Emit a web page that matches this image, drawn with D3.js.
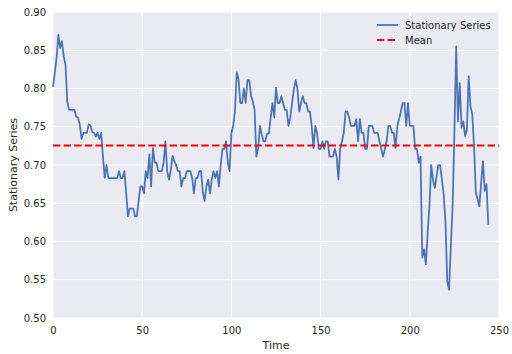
<!DOCTYPE html>
<html>
<head>
<meta charset="utf-8">
<script src="https://cdn.jsdelivr.net/npm/d3@7"></script>
<style>
  body { margin: 0; background: #fff; }
  svg text { font-family: "DejaVu Sans", sans-serif; fill: #262626; }
</style>
</head>
<body>
<svg id="chart"></svg>
<script>
// Series values, one per time step.
const seriesValues = [
  0.802, 0.82, 0.84, 0.87, 0.853, 0.862, 0.842, 0.831, 0.783, 0.772,
  0.772, 0.772, 0.772, 0.763, 0.762, 0.753, 0.734, 0.742, 0.742, 0.742,
  0.753, 0.752, 0.743, 0.742, 0.737, 0.742, 0.734, 0.742, 0.711, 0.683,
  0.70, 0.683, 0.683, 0.683, 0.683, 0.683, 0.683, 0.692, 0.683, 0.683,
  0.692, 0.664, 0.633, 0.643, 0.643, 0.643, 0.633, 0.633, 0.653, 0.672,
  0.672, 0.663, 0.692, 0.683, 0.714, 0.672, 0.722, 0.703, 0.703, 0.692,
  0.692, 0.692, 0.703, 0.731, 0.692, 0.681, 0.693, 0.712, 0.705, 0.70,
  0.692, 0.692, 0.672, 0.683, 0.683, 0.692, 0.692, 0.692, 0.683, 0.663,
  0.683, 0.683, 0.692, 0.692, 0.664, 0.653, 0.672, 0.681, 0.663, 0.681,
  0.692, 0.683, 0.692, 0.672, 0.70, 0.721, 0.721, 0.731, 0.703, 0.692,
  0.742, 0.751, 0.770, 0.821, 0.812, 0.781, 0.781, 0.80, 0.781, 0.811,
  0.811, 0.791, 0.783, 0.772, 0.711, 0.722, 0.751, 0.740, 0.731, 0.731,
  0.741, 0.741, 0.762, 0.781, 0.762, 0.801, 0.781, 0.781, 0.790, 0.781,
  0.772, 0.772, 0.751, 0.762, 0.781, 0.799, 0.811, 0.80, 0.770, 0.781,
  0.790, 0.781, 0.781, 0.770, 0.770, 0.751, 0.722, 0.751, 0.742, 0.721,
  0.721, 0.731, 0.721, 0.731, 0.731, 0.711, 0.711, 0.711, 0.721, 0.711,
  0.681, 0.722, 0.731, 0.742, 0.770, 0.770, 0.762, 0.751, 0.751, 0.751,
  0.760, 0.731, 0.760, 0.742, 0.742, 0.721, 0.721, 0.751, 0.751, 0.751,
  0.742, 0.742, 0.742, 0.731, 0.721, 0.711, 0.721, 0.731, 0.751, 0.751,
  0.742, 0.742, 0.722, 0.751, 0.760, 0.770, 0.781, 0.781, 0.751, 0.781,
  0.751, 0.751, 0.751, 0.721, 0.721, 0.703, 0.711, 0.579, 0.590, 0.570,
  0.611, 0.646, 0.700, 0.681, 0.670, 0.685, 0.700, 0.700, 0.681, 0.661,
  0.625, 0.548, 0.537, 0.594, 0.646, 0.742, 0.855, 0.757, 0.807, 0.749,
  0.757, 0.738, 0.746, 0.816, 0.777, 0.766, 0.725, 0.664, 0.655, 0.646,
  0.677, 0.705, 0.666, 0.675, 0.622
];
const meanValue = 0.7255;
const xTicks = [0, 50, 100, 150, 200, 250];
const yTicks = [0.50, 0.55, 0.60, 0.65, 0.70, 0.75, 0.80, 0.85, 0.90];
const legendLabels = ["Stationary Series", "Mean"];

const width = 512, height = 354;
const margin = { top: 12, right: 13, bottom: 36, left: 53 };

const svg = d3.select("#chart")
    .attr("width", width)
    .attr("height", height);

const innerW = width - margin.left - margin.right;
const innerH = height - margin.top - margin.bottom;

const x = d3.scaleLinear().domain([0, 250]).range([0, innerW]);
const y = d3.scaleLinear().domain([0.50, 0.90]).range([innerH, 0]);

const g = svg.append("g")
    .attr("transform", `translate(${margin.left},${margin.top})`);

// Grey plot background, seaborn darkgrid style.
g.append("rect")
    .attr("width", innerW)
    .attr("height", innerH)
    .attr("fill", "#EAEAF2");

// White grid lines.
g.append("g").selectAll("line")
    .data(xTicks)
    .enter().append("line")
    .attr("x1", d => x(d)).attr("x2", d => x(d))
    .attr("y1", 0).attr("y2", innerH)
    .attr("stroke", "#fff").attr("stroke-width", 1);

g.append("g").selectAll("line")
    .data(yTicks)
    .enter().append("line")
    .attr("x1", 0).attr("x2", innerW)
    .attr("y1", d => y(d)).attr("y2", d => y(d))
    .attr("stroke", "#fff").attr("stroke-width", 1);

// Axes with only labels (no domain line or tick marks).
const xAxis = g.append("g")
    .attr("transform", `translate(0,${innerH})`)
    .call(d3.axisBottom(x).tickValues(xTicks).tickSize(0).tickPadding(9));
const yAxis = g.append("g")
    .call(d3.axisLeft(y).tickValues(yTicks).tickFormat(d3.format(".2f")).tickSize(0).tickPadding(7));
[xAxis, yAxis].forEach(a => {
    a.select(".domain").remove();
    a.selectAll("text").attr("font-size", 10).attr("font-family", "DejaVu Sans").attr("fill", "#262626");
});

// Series line.
const line = d3.line()
    .x((d, i) => x(i))
    .y(d => y(d));

g.append("path")
    .datum(seriesValues)
    .attr("d", line)
    .attr("fill", "none")
    .attr("stroke", "#4C72B0")
    .attr("stroke-width", 1.75)
    .attr("stroke-linejoin", "round");

// Mean line across the whole plot.
g.append("line")
    .attr("x1", 0).attr("x2", innerW)
    .attr("y1", y(meanValue)).attr("y2", y(meanValue))
    .attr("stroke", "#ff0000")
    .attr("stroke-width", 2)
    .attr("stroke-dasharray", "7.4,3.2");

// Axis labels.
svg.append("text")
    .attr("x", margin.left + innerW / 2)
    .attr("y", 349)
    .attr("text-anchor", "middle")
    .attr("font-size", 11)
    .text("Time");

svg.append("text")
    .attr("transform", `translate(17,${margin.top + innerH / 2}) rotate(-90)`)
    .attr("text-anchor", "middle")
    .attr("font-size", 11)
    .text("Stationary Series");

// Legend, no frame.
const legend = svg.append("g");
const legendStyles = [
    { color: "#4C72B0", dash: null, width: 1.75 },
    { color: "#ff0000", dash: "7.4,3.2", width: 2 }
];
legendLabels.forEach((label, i) => {
    const ly = 25 + i * 15;
    legend.append("line")
        .attr("x1", 377).attr("x2", 398)
        .attr("y1", ly).attr("y2", ly)
        .attr("stroke", legendStyles[i].color)
        .attr("stroke-width", legendStyles[i].width)
        .attr("stroke-dasharray", legendStyles[i].dash);
    legend.append("text")
        .attr("x", 405)
        .attr("y", ly)
        .attr("dy", "0.35em")
        .attr("font-size", 10)
        .text(label);
});
</script>
</body>
</html>
